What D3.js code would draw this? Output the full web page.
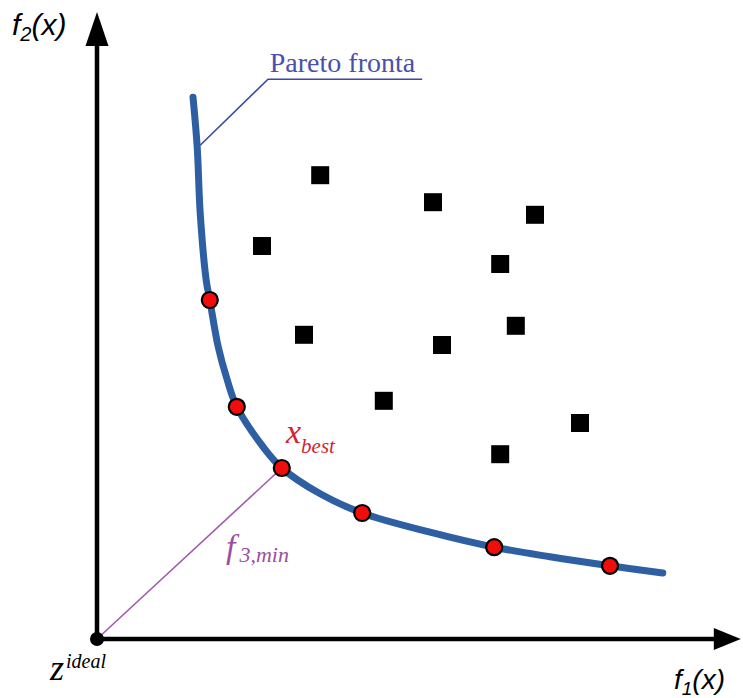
<!DOCTYPE html>
<html>
<head>
<meta charset="utf-8">
<script src="https://cdn.jsdelivr.net/npm/d3@7"></script>
<style>
    body { margin: 0; background: #fff; }
    svg { display: block; }
</style>
</head>
<body>
<div id="chart"></div>
<script>
// Pareto front sketch: dominated solutions (squares) and Pareto-optimal points (red)

// curve through the Pareto front, in objective units
const frontX = [16.0, 16.7, 17.2, 18.2, 18.8, 20.2, 21.7, 23.3, 27.7, 30.8, 37.2, 44.2, 55.5, 66.2, 75.5, 85.5, 94.3];
const frontY = [90.3, 82.0, 71.0, 59.8, 56.5, 48.7, 43.2, 38.7, 32.0, 28.5, 24.2, 21.0, 17.8, 15.3, 13.7, 12.2, 11.0];

// non-dominated solutions sitting on the front
const paretoX = [18.8, 23.3, 30.8, 44.2, 66.2, 85.5];
const paretoY = [56.5, 38.7, 28.5, 21.0, 15.3, 12.2];

// dominated solutions
const domX = [37.2, 56.0, 73.0, 27.5, 67.2, 34.5, 57.5, 69.8, 47.8, 80.5, 67.2];
const domY = [77.3, 72.8, 70.7, 65.5, 62.5, 50.7, 49.0, 52.2, 39.7, 36.0, 30.8];

const bestIndex = 2; // x_best, closest to z ideal

const width = 743,
    height = 698;

const x = d3.scaleLinear()
    .domain([0, 100])
    .range([97, 697]);

const y = d3.scaleLinear()
    .domain([0, 100])
    .range([639, 39]);

let svg = d3.select("#chart")
    .append("svg")
    .attr("width", width)
    .attr("height", height)
    .attr("viewBox", [0, 0, width, height]);

// Axes with arrow heads
const xEnd = 107.3,
    yEnd = 104.5;

svg.append("line")
    .attr("x1", x(0)).attr("y1", y(0))
    .attr("x2", x(xEnd) - 20).attr("y2", y(0))
    .attr("stroke", "#000")
    .attr("stroke-width", 4.5);

svg.append("line")
    .attr("x1", x(0)).attr("y1", y(0))
    .attr("x2", x(0)).attr("y2", y(yEnd) + 20)
    .attr("stroke", "#000")
    .attr("stroke-width", 4.5);

svg.append("path")
    .attr("d", `M${x(xEnd)},${y(0)} L${x(xEnd) - 27},${y(0) - 11} L${x(xEnd) - 27},${y(0) + 11} Z`)
    .attr("fill", "#000");

svg.append("path")
    .attr("d", `M${x(0)},${y(yEnd)} L${x(0) - 11.5},${y(yEnd) + 34} L${x(0) + 11.5},${y(yEnd) + 34} Z`)
    .attr("fill", "#000");

// Axis titles
const f2 = svg.append("text")
    .attr("x", 12)
    .attr("y", 35)
    .attr("font-family", "Liberation Sans, Arial, sans-serif")
    .attr("font-style", "italic")
    .attr("font-size", 30)
    .attr("fill", "#000");
f2.append("tspan").text("f");
f2.append("tspan").attr("font-size", 20).attr("dy", 6).text("2");
f2.append("tspan").attr("dy", -6).text("(x)");

const f1 = svg.append("text")
    .attr("x", 674)
    .attr("y", 689)
    .attr("font-family", "Liberation Sans, Arial, sans-serif")
    .attr("font-style", "italic")
    .attr("font-size", 28)
    .attr("fill", "#000");
f1.append("tspan").text("f");
f1.append("tspan").attr("font-size", 19).attr("dy", 6).text("1");
f1.append("tspan").attr("dy", -6).text("(x)");

// line from ideal point to x_best
svg.append("line")
    .attr("x1", x(0)).attr("y1", y(0))
    .attr("x2", x(paretoX[bestIndex])).attr("y2", y(paretoY[bestIndex]))
    .attr("stroke", "#a15aab")
    .attr("stroke-width", 1.6);

// Pareto front curve
const front = frontX.map((d, i) => [d, frontY[i]]);

const line = d3.line()
    .x(d => x(d[0]))
    .y(d => y(d[1]))
    .curve(d3.curveCatmullRom.alpha(0.5));

svg.append("path")
    .datum(front)
    .attr("d", line)
    .attr("fill", "none")
    .attr("stroke", "#2f5fa3")
    .attr("stroke-width", 7)
    .attr("stroke-linecap", "round");

// leader line for the front label
svg.append("path")
    .attr("d", `M${x(17.2)},${y(82.3)} L${x(28.5)},${y(93.3)} L${x(54.2)},${y(93.3)}`)
    .attr("fill", "none")
    .attr("stroke", "#3c47a6")
    .attr("stroke-width", 1.6);

svg.append("text")
    .attr("x", x(28.8))
    .attr("y", y(94.5))
    .attr("font-family", "Liberation Serif, Times New Roman, serif")
    .attr("font-size", 28)
    .attr("fill", "#4a4fac")
    .text("Pareto fronta");

// dominated solutions
const sq = 18;
svg.selectAll(".dom")
    .data(domX.map((d, i) => [d, domY[i]]))
    .join("rect")
    .attr("class", "dom")
    .attr("x", d => x(d[0]) - sq / 2)
    .attr("y", d => y(d[1]) - sq / 2)
    .attr("width", sq)
    .attr("height", sq)
    .attr("fill", "#000");

// Pareto-optimal points
svg.selectAll(".opt")
    .data(paretoX.map((d, i) => [d, paretoY[i]]))
    .join("circle")
    .attr("class", "opt")
    .attr("cx", d => x(d[0]))
    .attr("cy", d => y(d[1]))
    .attr("r", 8)
    .attr("fill", "#f20d0d")
    .attr("stroke", "#000")
    .attr("stroke-width", 2.2);

// ideal point
svg.append("circle")
    .attr("cx", x(0))
    .attr("cy", y(0))
    .attr("r", 7)
    .attr("fill", "#000");

// labels
const serif = "Liberation Serif, Times New Roman, serif";

const zl = svg.append("text")
    .attr("x", 50)
    .attr("y", 680)
    .attr("font-family", serif)
    .attr("font-style", "italic")
    .attr("fill", "#000");
zl.append("tspan").attr("font-size", 36).text("z");
zl.append("tspan").attr("font-size", 20).attr("dy", -12).attr("dx", 2).text("ideal");

const xb = svg.append("text")
    .attr("x", 286)
    .attr("y", 443)
    .attr("font-family", serif)
    .attr("font-style", "italic")
    .attr("fill", "#d6242e");
xb.append("tspan").attr("font-size", 34).text("x");
xb.append("tspan").attr("font-size", 21).attr("dy", 10).text("best");

const fm = svg.append("text")
    .attr("x", 226)
    .attr("y", 558)
    .attr("font-family", serif)
    .attr("font-style", "italic")
    .attr("fill", "#9c4f9f");
fm.append("tspan").attr("font-size", 34).text("f");
fm.append("tspan").attr("font-size", 22).attr("dy", 4).attr("dx", 4).text("3,min");
</script>
</body>
</html>
